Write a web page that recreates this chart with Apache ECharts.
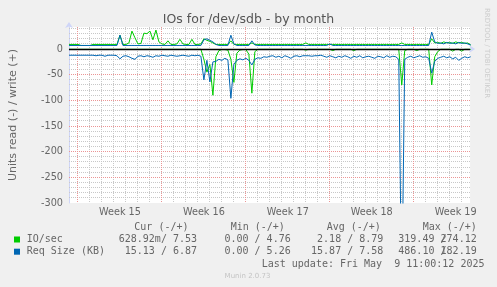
<!DOCTYPE html>
<html><head><meta charset="utf-8">
<script src="https://cdn.jsdelivr.net/npm/echarts@6/dist/echarts.min.js"></script>
<style>html,body{margin:0;padding:0;background:#f0f0f0}#c{width:497px;height:287px}</style>
</head><body><div id="c"></div>
<script>
// ---- data (x step = 0.25 day, starting at left edge of the month window) ----
const stepDays = 0.25;
const weekLabels = ['Week 15', 'Week 16', 'Week 17', 'Week 18', 'Week 19'];
const weekStarts = [0.75, 7.75, 14.75, 21.75, 28.75];

// IO/sec write (+)
const ioWrite = [
  9,9,9,9,7,7,7,7,9,9,9,9,9,9,9,
  9,9,27,9,9,12,35,22,10,11,31,30,35,18,37,
  14,10,9,16,9,9,10,19,10,9,9,19,9,9,10,
  20,17,15,12,9,9,9,9,9,16,9,9,9,9,9,
  9,12,9,9,9,9,9,9,9,9,9,9,9,9,9,
  9,9,9,9,12,9,9,9,9,9,9,9,9,9,9,
  9,9,9,9,9,9,9,9,9,9,9,9,9,9,9,
  9,9,9,9,9,9,12,9,9,9,9,9,9,9,9,
  9,20,12,13,11,14,12,13,11,14,12,13,11,12,8
];
// IO/sec read (-)
const ioRead = [
  -0.5,-0.5,-0.5,-0.5,-0.5,-0.5,-0.5,-0.5,-0.5,-0.5,-0.5,-0.5,-0.5,-0.5,-0.5,
  -0.5,-0.5,-0.5,-0.5,-0.5,-0.5,-0.5,-0.5,-0.5,-0.5,-0.5,-0.5,-0.5,-0.5,-0.5,
  -0.5,-0.5,-0.5,-0.5,-0.5,-0.5,-0.5,-0.5,-0.5,-0.5,-0.5,-0.5,-0.5,-0.5,-0.5,
  -20,-45,-30,-90,-15,-3,-1,-1,-2,-20,-65,-8,-2,-1,-1,
  -10,-86,-5,-0.5,-0.5,-0.5,-0.5,-0.5,-0.5,-0.5,-0.5,-0.5,-0.5,-0.5,-0.5,
  -0.5,-0.5,-0.5,-0.5,-2,-0.5,-0.5,-0.5,-0.5,-0.5,-0.5,-0.5,-0.5,-3,-0.5,
  -0.5,-0.5,-0.5,-0.5,-0.5,-3,-0.5,-0.5,-0.5,-0.5,-0.5,-0.5,-0.5,-0.5,-0.5,
  -0.5,-0.5,-0.5,-0.5,-0.5,-0.5,-70,-3,-0.5,-0.5,-0.5,-3,-0.5,-0.5,-0.5,
  -0.5,-70,-15,-5,-0.5,-0.5,-0.5,-0.5,-4,-0.5,-0.5,-4,-0.5,-0.5,-0.6
];
// Req Size (KB) write (+)
const reqWrite = [
  7,7,7,7,7,7,7,7,7,7,7,7,7,7,7,
  7,7,27,7,7,7,7,7,7,7,7,7,7,7,7,
  7,7,7,7,7,7,7,7,7,7,7,7,7,7,7,
  18,20,17,14,9,7,7,7,7,27,10,7,7,7,7,
  7,16,8,7,7,7,7,7,7,7,7,7,7,7,7,
  7,7,7,7,7,7,7,7,7,7,7,7,10,7,7,
  7,7,7,7,7,7,7,7,7,7,7,7,7,7,7,
  7,7,7,7,7,7,7,7,7,7,7,7,7,7,7,
  7,33,14,11,12,10,13,11,12,10,13,11,12,10,8
];
// Req Size (KB) read (-)
const reqRead = [
  -12,-12,-12,-12,-12,-12,-12,-12,-12,-13,-12,-12,-14,-12,-12,
  -12,-13,-19,-14,-13,-15,-18,-20,-14,-13,-15,-13,-14,-16,-13,
  -14,-12,-13,-14,-12,-13,-14,-13,-12,-13,-14,-12,-13,-12,-14,
  -60,-22,-64,-25,-24,-20,-22,-18,-21,-96,-30,-22,-19,-21,-18,
  -22,-31,-20,-17,-18,-15,-16,-14,-13,-16,-14,-17,-13,-15,-18,
  -14,-13,-15,-13,-13,-13,-14,-13,-13,-12,-14,-16,-13,-15,-17,
  -14,-16,-13,-15,-18,-14,-16,-13,-17,-15,-14,-16,-18,-14,-15,
  -17,-13,-16,-14,-15,-20,-486,-20,-16,-14,-17,-15,-13,-16,-15,
  -18,-47,-24,-18,-16,-14,-17,-15,-19,-16,-22,-18,-15,-17,-15
];

// legend statistics
const statHeaders = ['Cur (-/+)', 'Min (-/+)', 'Avg (-/+)', 'Max (-/+)'];
const seriesNames = ['IO/sec', 'Req Size (KB)'];
const ioStats = ['628.92m/ 7.53', '0.00 / 4.76', '2.18 / 8.79'];
const ioMax = ['319.49', '274.12'];
const reqStats = ['15.13 / 6.87', '0.00 / 5.26', '15.87 / 7.58'];
const reqMax = ['486.10', '182.19'];
const lastUpdate = 'Last update: Fri May  9 11:00:12 2025';
const titleText = 'IOs for /dev/sdb - by month';
const yName = 'Units read (-) / write (+)';

// ---- build ----
const GREEN = '#00cc00', BLUE = '#0066b3';
const toPairs = arr => arr.map((v, i) => [i * stepDays, v]);
const XMAX = 33.45, YMIN = -300, YMAX = 43;
const weekMid = weekStarts.map(s => s + 3.5);
const mono = 'DejaVu Sans Mono';
const TXT = '#666';

const lineSeries = (name, arr, color, z) => ({
  name, type: 'line', data: toPairs(arr), showSymbol: false, symbol: 'none',
  lineStyle: {color, width: 1}, itemStyle: {color}, z, animation: false, clip: true
});

const chart = echarts.init(document.getElementById('c'), null, {renderer: 'canvas'});
chart.setOption({
  backgroundColor: '#f0f0f0',
  animation: false,
  grid: {left: 67.5, right: 26.9, top: 27, bottom: 84, show: true, backgroundColor: '#ffffff', borderWidth: 0},
  xAxis: {
    type: 'value', min: 0, max: XMAX,
    axisLine: {show: true, lineStyle: {color: '#cfd6f8', width: 1}, symbol: ['none', 'arrow'], symbolSize: [6, 6], symbolOffset: [0, 5]},
    axisTick: {show: false}, splitLine: {show: false},
    axisLabel: {customValues: weekMid, formatter: v => weekLabels[weekMid.indexOf(v)] || '', color: TXT, fontSize: 9.7, fontFamily: 'DejaVu Sans', margin: 4}
  },
  yAxis: {
    type: 'value', min: YMIN, max: YMAX, interval: 50,
    axisLine: {show: true, lineStyle: {color: '#cfd6f8', width: 1}, symbol: ['none', 'arrow'], symbolSize: [6, 6], symbolOffset: [0, 5]},
    axisTick: {show: false}, splitLine: {show: false},
    axisLabel: {showMaxLabel: false, color: TXT, fontSize: 9.7, fontFamily: 'DejaVu Sans', margin: 6},
    name: yName, nameLocation: 'middle', nameGap: 50,
    nameTextStyle: {color: TXT, fontSize: 11, fontFamily: 'DejaVu Sans'}
  },
  series: [
    lineSeries('IO/sec read', ioRead, GREEN, 2),
    lineSeries('IO/sec write', ioWrite, GREEN, 2),
    lineSeries('Req Size read', reqRead, BLUE, 4),
    lineSeries('Req Size write', reqWrite, BLUE, 4)
  ]
});

// ---- grid rules (pixel-snapped through the axes) and texts ----
const toPx = (x, y) => chart.convertToPixel({gridIndex: 0}, [x, y]);
const snap = v => Math.round(v - 0.5) + 0.5;
const gLeft = toPx(0, 0)[0], gRight = toPx(XMAX, 0)[0];
const gTop = toPx(0, YMAX)[1], gBot = toPx(0, YMIN)[1];
const graphics = [];
const rule = (x1, y1, x2, y2, stroke, dash, z, w) => graphics.push({
  type: 'line', silent: true, z, shape: {x1, y1, x2, y2},
  style: {stroke, lineWidth: w || 1, lineDash: dash}
});
const MINOR = '#c8c8c8', MAJOR = '#eb9595';
const minorRules = [], majorRules = [];
for (let k = 0; weekStarts[0] + k < XMAX; k++) {
  const X = snap(toPx(weekStarts[0] + k, 0)[0]);
  (k % 7 === 0 ? majorRules : minorRules).push([X, gTop, X, gBot]);
}
for (let v = -290; v <= 40; v += 10) {
  if (v === 0) continue;
  const Y = snap(toPx(0, v)[1]);
  (v % 50 === 0 ? majorRules : minorRules).push([gLeft, Y, gRight, Y]);
}
minorRules.forEach(r => rule(r[0], r[1], r[2], r[3], MINOR, [1, 1], 1));
majorRules.forEach(r => rule(r[0], r[1], r[2], r[3], MAJOR, [1, 1], 1));
const Y0 = toPx(0, 0)[1];
rule(gLeft, snap(Y0), gRight, snap(Y0), '#000', null, 3, 1.5);

const text = (x, y, t, font, fill, align, extra) => graphics.push(Object.assign({
  type: 'text', x, y, z: 5, silent: true,
  style: {text: t, fill, font, textAlign: align, textVerticalAlign: 'middle'}
}, extra || {}));
const monoFont = '10px "' + mono + '"';
text(248.5, 19.5, titleText, '12.5px "DejaVu Sans"', '#555', 'center');
const headX = [134.3, 230.7, 326.7, 422.7];
statHeaders.forEach((h, k) => text(headX[k], 227.7, h, monoFont, TXT, 'left'));
const rowY = [239.5, 251.7];
const colors = [GREEN, BLUE];
const rowsStats = [ioStats, reqStats];
const rowsMax = [ioMax, reqMax];
const valRight = [197, 290.7, 383.3];
for (let r = 0; r < 2; r++) {
  graphics.push({type: 'rect', z: 5, silent: true, shape: {x: 14, y: rowY[r] - 3, width: 6, height: 6}, style: {fill: colors[r]}});
  text(26.7, rowY[r], seriesNames[r], monoFont, TXT, 'left');
  rowsStats[r].forEach((s, k) => text(valRight[k], rowY[r], s, monoFont, TXT, 'right'));
  text(398.3, rowY[r], rowsMax[r][0] + ' /', monoFont, TXT, 'left');
  text(476.7, rowY[r], rowsMax[r][1], monoFont, TXT, 'right');
}
text(261.7, 264, lastUpdate, monoFont, TXT, 'left');
text(247.5, 276, 'Munin 2.0.73', '7px "DejaVu Sans"', '#c4c4c4', 'center');
text(487, 53, 'RRDTOOL / TOBI OETIKER', '7px "DejaVu Sans"', '#cccccc', 'center', {rotation: -Math.PI / 2});

chart.setOption({graphic: {elements: graphics}});
</script>
</body></html>
